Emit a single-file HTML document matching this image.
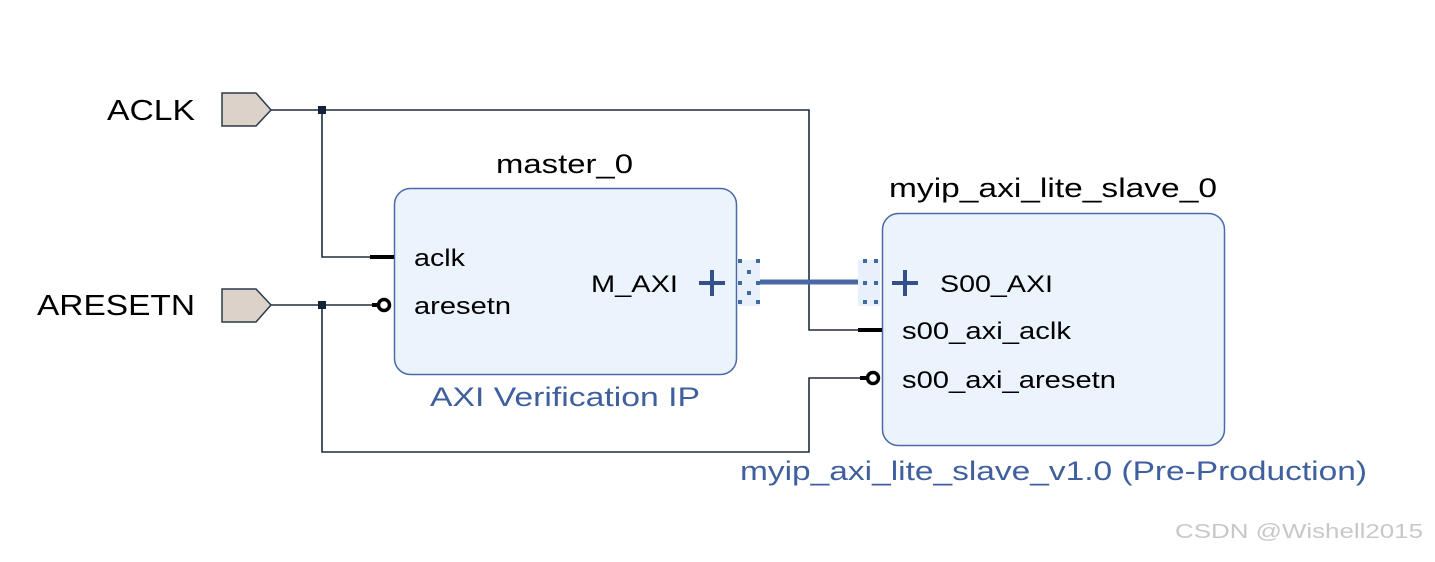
<!DOCTYPE html>
<html><head><style>body{margin:0;background:#fff}svg text{font-family:"Liberation Sans",Arial,sans-serif}</style></head>
<body>
<svg width="1435" height="557" viewBox="0 0 1435 557" xmlns="http://www.w3.org/2000/svg">
<rect width="1435" height="557" fill="#fff"/>
<g fill="none" stroke="#1f2d3d" stroke-width="1.6">
<polyline points="270,110 809,110 809,330 870,330"/>
<polyline points="322,110 322,257 372,257"/>
<polyline points="270,305 375,305"/>
<polyline points="322,305 322,452 809,452 809,378 865,378"/>
</g>
<rect x="318" y="106" width="8" height="8" fill="#13233a"/>
<rect x="318" y="301" width="8" height="8" fill="#13233a"/>
<polygon points="222,93 256,93 271,110 256,126 222,126" fill="#dcd2ca" stroke="#2b3a4a" stroke-width="1.5"/>
<polygon points="222,289 256,289 271,305 256,322 222,322" fill="#dcd2ca" stroke="#2b3a4a" stroke-width="1.5"/>
<text x="107" y="120" font-size="29" textLength="88" lengthAdjust="spacingAndGlyphs" fill="#000">ACLK</text>
<text x="37" y="315" font-size="29" textLength="158" lengthAdjust="spacingAndGlyphs" fill="#000">ARESETN</text>
<rect x="394.5" y="188.5" width="342" height="186" rx="16" fill="#ebf3fd" stroke="#4a6aa8" stroke-width="1.5"/>
<text x="496" y="173" font-size="27" textLength="137" lengthAdjust="spacingAndGlyphs" fill="#000">master_0</text>
<text x="430" y="406" font-size="27" textLength="270" lengthAdjust="spacingAndGlyphs" fill="#3f5f9e">AXI Verification IP</text>
<line x1="370" y1="257" x2="394" y2="257" stroke="#000" stroke-width="4"/>
<line x1="372" y1="305" x2="378" y2="305" stroke="#000" stroke-width="4"/>
<circle cx="384" cy="305" r="5.5" fill="#fff" stroke="#000" stroke-width="3.5"/>
<text x="414" y="266" font-size="24" textLength="51" lengthAdjust="spacingAndGlyphs" fill="#000">aclk</text>
<text x="414" y="314" font-size="24" textLength="97" lengthAdjust="spacingAndGlyphs" fill="#000">aresetn</text>
<text x="591" y="292" font-size="24" textLength="87" lengthAdjust="spacingAndGlyphs" fill="#000">M_AXI</text>
<path d="M699 283h26M712 270v26" stroke="#34508a" stroke-width="4"/>
<rect x="738" y="260" width="22" height="46" fill="#e8f1fb"/>
<rect x="858" y="260" width="22" height="46" fill="#e8f1fb"/>
<g fill="#3d6aa3">
<rect x="738" y="259" width="4" height="4"/><rect x="756" y="259" width="4" height="4"/>
<rect x="747" y="270" width="4" height="4"/><rect x="738" y="281" width="4" height="4"/><rect x="756" y="281" width="4" height="4"/>
<rect x="747" y="291" width="4" height="4"/><rect x="738" y="300" width="4" height="4"/><rect x="756" y="300" width="4" height="4"/>
<rect x="863" y="259" width="4" height="4"/><rect x="874" y="259" width="4" height="4"/>
<rect x="863" y="281" width="4" height="4"/><rect x="874" y="281" width="4" height="4"/>
<rect x="863" y="300" width="4" height="4"/><rect x="874" y="300" width="4" height="4"/>
</g>
<line x1="760" y1="282" x2="858" y2="282" stroke="#4a68a6" stroke-width="5"/>
<rect x="882.5" y="213.5" width="342" height="232" rx="16" fill="#ebf3fd" stroke="#4a6aa8" stroke-width="1.5"/>
<text x="889" y="197" font-size="27" textLength="328" lengthAdjust="spacingAndGlyphs" fill="#000">myip_axi_lite_slave_0</text>
<text x="740" y="480" font-size="27" textLength="627" lengthAdjust="spacingAndGlyphs" fill="#3f5f9e">myip_axi_lite_slave_v1.0 (Pre-Production)</text>
<path d="M892 283h26M905 270v26" stroke="#34508a" stroke-width="4"/>
<text x="940" y="292" font-size="24" textLength="113" lengthAdjust="spacingAndGlyphs" fill="#000">S00_AXI</text>
<line x1="858" y1="330" x2="882" y2="330" stroke="#000" stroke-width="4"/>
<text x="902" y="339" font-size="24" textLength="169" lengthAdjust="spacingAndGlyphs" fill="#000">s00_axi_aclk</text>
<line x1="860" y1="378" x2="867" y2="378" stroke="#000" stroke-width="4"/>
<circle cx="873" cy="378" r="5.5" fill="#fff" stroke="#000" stroke-width="3.5"/>
<text x="902" y="388" font-size="24" textLength="214" lengthAdjust="spacingAndGlyphs" fill="#000">s00_axi_aresetn</text>
<text x="1175" y="538" font-size="20" textLength="248" lengthAdjust="spacingAndGlyphs" fill="#c8c8c8">CSDN @Wishell2015</text>
</svg>
</body></html>
